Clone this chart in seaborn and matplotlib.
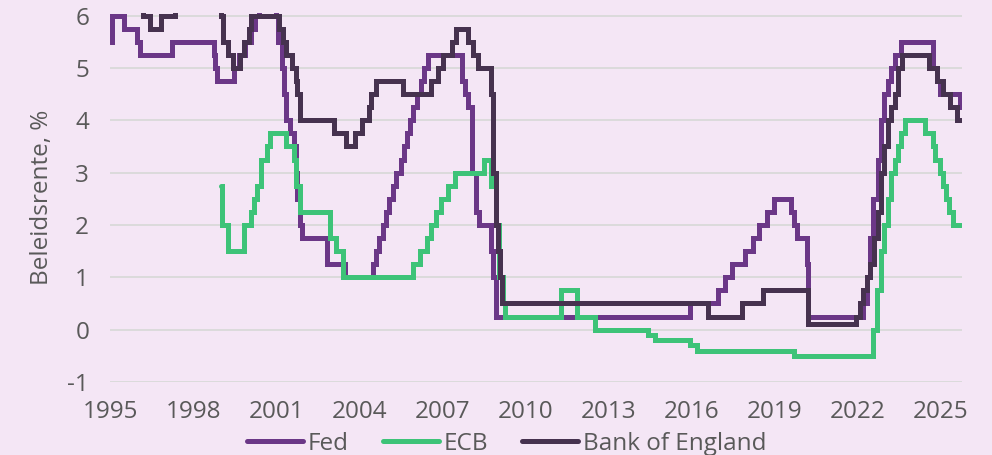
import matplotlib
matplotlib.use("Agg")
import matplotlib.pyplot as plt
import pandas as pd
import seaborn as sns

# policy rate changes (date of change, new rate in %)
fed_dates = [
    "1995-01-01", "1995-02-01", "1995-07-06", "1995-12-19", "1996-01-31", "1997-03-25",
    "1998-09-29", "1998-10-15", "1998-11-17", "1999-06-30", "1999-08-24", "1999-11-16",
    "2000-02-02", "2000-03-21", "2000-05-16", "2001-01-03", "2001-01-31", "2001-03-20",
    "2001-04-18", "2001-05-15", "2001-06-27", "2001-08-21", "2001-09-17", "2001-10-02",
    "2001-11-06", "2001-12-11", "2002-11-06", "2003-06-25", "2004-06-30", "2004-08-10",
    "2004-09-21", "2004-11-10", "2004-12-14", "2005-02-02", "2005-03-22", "2005-05-03",
    "2005-06-30", "2005-08-09", "2005-09-20", "2005-11-01", "2005-12-13", "2006-01-31",
    "2006-03-28", "2006-05-10", "2006-06-29", "2007-09-18", "2007-10-31", "2007-12-11",
    "2008-01-22", "2008-01-30", "2008-03-18", "2008-04-30", "2008-10-08", "2008-10-29",
    "2008-12-16", "2015-12-16", "2016-12-14", "2017-03-15", "2017-06-14", "2017-12-13",
    "2018-03-21", "2018-06-13", "2018-09-26", "2018-12-19", "2019-07-31", "2019-09-18",
    "2019-10-30", "2020-03-03", "2020-03-15", "2022-03-16", "2022-05-04", "2022-06-15",
    "2022-07-27", "2022-09-21", "2022-11-02", "2022-12-14", "2023-02-01", "2023-03-22",
    "2023-05-03", "2023-07-26", "2024-09-18", "2024-11-07", "2024-12-18", "2025-09-17",
    "2025-10-01",
]
fed_rates = [
    5.5, 6.0, 5.75, 5.5, 5.25, 5.5,
    5.25, 5.0, 4.75, 5.0, 5.25, 5.5,
    5.75, 6.0, 6.5, 6.0, 5.5, 5.0,
    4.5, 4.0, 3.75, 3.5, 3.0, 2.5,
    2.0, 1.75, 1.25, 1.0, 1.25, 1.5,
    1.75, 2.0, 2.25, 2.5, 2.75, 3.0,
    3.25, 3.5, 3.75, 4.0, 4.25, 4.5,
    4.75, 5.0, 5.25, 4.75, 4.5, 4.25,
    3.5, 3.0, 2.25, 2.0, 1.5, 1.0,
    0.25, 0.5, 0.75, 1.0, 1.25, 1.5,
    1.75, 2.0, 2.25, 2.5, 2.25, 2.0,
    1.75, 1.25, 0.25, 0.5, 1.0, 1.75,
    2.5, 3.25, 4.0, 4.5, 4.75, 5.0,
    5.25, 5.5, 5.0, 4.75, 4.5, 4.25,
    4.25,
]

ecb_dates = [
    "1999-01-01", "1999-01-22", "1999-04-09", "1999-11-05", "2000-02-04", "2000-03-17",
    "2000-04-28", "2000-06-09", "2000-09-01", "2000-10-06", "2001-05-11", "2001-08-31",
    "2001-09-18", "2001-11-09", "2002-12-06", "2003-03-07", "2003-06-06", "2005-12-06",
    "2006-03-08", "2006-06-15", "2006-08-09", "2006-10-11", "2006-12-13", "2007-03-14",
    "2007-06-13", "2008-07-09", "2008-10-08", "2008-12-10", "2009-01-21", "2009-03-11",
    "2009-04-08", "2011-04-13", "2011-11-09", "2012-07-11", "2014-06-11", "2014-09-10",
    "2015-12-09", "2016-03-16", "2019-09-18", "2022-07-27", "2022-09-14", "2022-11-02",
    "2022-12-21", "2023-02-08", "2023-03-22", "2023-05-10", "2023-06-21", "2023-08-02",
    "2023-09-20", "2024-06-12", "2024-09-18", "2024-10-23", "2024-12-18", "2025-02-05",
    "2025-03-12", "2025-04-23", "2025-06-11", "2025-10-01",
]
ecb_rates = [
    2.75, 2.0, 1.5, 2.0, 2.25, 2.5,
    2.75, 3.25, 3.5, 3.75, 3.5, 3.25,
    2.75, 2.25, 1.75, 1.5, 1.0, 1.25,
    1.5, 1.75, 2.0, 2.25, 2.5, 2.75,
    3.0, 3.25, 2.75, 2.0, 1.0, 0.5,
    0.25, 0.75, 0.25, 0.0, -0.1, -0.2,
    -0.3, -0.4, -0.5, 0.0, 0.75, 1.5,
    2.0, 2.5, 3.0, 3.25, 3.5, 3.75,
    4.0, 3.75, 3.5, 3.25, 3.0, 2.75,
    2.5, 2.25, 2.0, 2.0,
]

boe_dates = [
    "1995-01-01", "1995-02-02", "1995-12-13", "1996-01-18", "1996-03-08", "1996-06-06",
    "1996-10-30", "1997-05-06", "1997-06-06", "1997-07-10", "1997-08-07", "1997-11-06",
    "1998-06-04", "1998-10-08", "1998-11-05", "1998-12-10", "1999-01-07", "1999-02-04",
    "1999-04-08", "1999-06-10", "1999-09-08", "1999-11-04", "2000-01-13", "2000-02-10",
    "2001-02-08", "2001-04-05", "2001-05-10", "2001-08-02", "2001-09-18", "2001-10-04",
    "2001-11-08", "2003-02-06", "2003-07-10", "2003-11-06", "2004-02-05", "2004-05-06",
    "2004-06-10", "2004-08-05", "2005-08-04", "2006-08-03", "2006-11-09", "2007-01-11",
    "2007-05-10", "2007-07-05", "2007-12-06", "2008-02-07", "2008-04-10", "2008-10-08",
    "2008-11-06", "2008-12-04", "2009-01-08", "2009-02-05", "2009-03-05", "2016-08-04",
    "2017-11-02", "2018-08-02", "2020-03-11", "2020-03-19", "2021-12-16", "2022-02-03",
    "2022-03-17", "2022-05-05", "2022-06-16", "2022-08-04", "2022-09-22", "2022-11-03",
    "2022-12-15", "2023-02-02", "2023-03-23", "2023-05-11", "2023-06-22", "2023-08-03",
    "2024-08-01", "2024-11-07", "2025-02-06", "2025-05-08", "2025-08-07", "2025-10-01",
]
boe_rates = [
    6.25, 6.75, 6.5, 6.25, 6.0, 5.75,
    6.0, 6.25, 6.5, 6.75, 7.0, 7.25,
    7.5, 7.25, 6.75, 6.25, 6.0, 5.5,
    5.25, 5.0, 5.25, 5.5, 5.75, 6.0,
    5.75, 5.5, 5.25, 5.0, 4.75, 4.5,
    4.0, 3.75, 3.5, 3.75, 4.0, 4.25,
    4.5, 4.75, 4.5, 4.75, 5.0, 5.25,
    5.5, 5.75, 5.5, 5.25, 5.0, 4.5,
    3.0, 2.0, 1.5, 1.0, 0.5, 0.25,
    0.5, 0.75, 0.25, 0.1, 0.25, 0.5,
    0.75, 1.0, 1.25, 1.75, 2.25, 3.0,
    3.5, 4.0, 4.25, 4.5, 5.0, 5.25,
    5.0, 4.75, 4.5, 4.25, 4.0, 4.0,
]

series_names = ["Fed", "ECB", "Bank of England"]
year_ticks = [1995, 1998, 2001, 2004, 2007, 2010, 2013, 2016, 2019, 2022, 2025]
y_ticks = [-1, 0, 1, 2, 3, 4, 5, 6]

COLORS = {"Fed": "#6b3787", "ECB": "#3dc378", "Bank of England": "#46324f"}
BG = "#f4e6f5"
TEXT = "#595959"
FS = 17.5


def to_decimal_year(dates):
    d = pd.to_datetime(pd.Series(dates))
    return d.dt.year + (d.dt.dayofyear - 1) / 365.25


def build_frame() -> pd.DataFrame:
    parts = []
    for name, dates, rates in zip(
        series_names, [fed_dates, ecb_dates, boe_dates], [fed_rates, ecb_rates, boe_rates]
    ):
        parts.append(pd.DataFrame({"year": to_decimal_year(dates), "rate": rates, "bank": name}))
    return pd.concat(parts, ignore_index=True)


def main() -> None:
    sns.set_theme(style="white")
    plt.rcParams["font.family"] = ["Open Sans", "DejaVu Sans"]
    plt.rcParams["axes.unicode_minus"] = False

    df = build_frame()

    fig = plt.figure(figsize=(9.92, 4.55), dpi=100, facecolor=BG)
    ax = fig.add_axes([110 / 992, 1 - 382 / 455, 852 / 992, (382 - 13) / 455])
    ax.set_facecolor(BG)

    for y in y_ticks:
        ax.axhline(y, color="#d9d9d9", lw=1.3, zorder=0)

    for name in series_names:
        sub = df[df["bank"] == name]
        sns.lineplot(
            data=sub, x="year", y="rate", ax=ax, color=COLORS[name], lw=3.6,
            drawstyle="steps-post", estimator=None, label=name,
            solid_joinstyle="miter", solid_capstyle="butt",
        )

    ax.set_xlim(1995, 2025.77)
    ax.set_ylim(-1, 6.05)
    ax.set_xticks(year_ticks)
    ax.set_xticklabels([str(y) for y in year_ticks])
    ax.set_yticks(y_ticks)
    ax.tick_params(axis="both", length=0, labelsize=FS, colors=TEXT)
    ax.tick_params(axis="y", pad=15)
    ax.tick_params(axis="x", pad=13)
    for spine in ax.spines.values():
        spine.set_visible(False)

    ax.set_xlabel("")
    ax.set_ylabel("Beleidsrente, %", fontsize=FS, color=TEXT, labelpad=10)

    handles, labels = ax.get_legend_handles_labels()
    ax.get_legend().remove()
    for h in handles:
        h.set_solid_capstyle("round")
    fig.legend(
        handles, labels, loc="center", bbox_to_anchor=(507 / 992, 1 - 444 / 455),
        ncol=3, frameon=False, fontsize=FS, labelcolor=TEXT,
        handlelength=2.3, handletextpad=0.2, columnspacing=1.4,
    )

    fig.savefig("out.png", dpi=100, facecolor=BG)
    plt.close(fig)


if __name__ == "__main__":
    main()
